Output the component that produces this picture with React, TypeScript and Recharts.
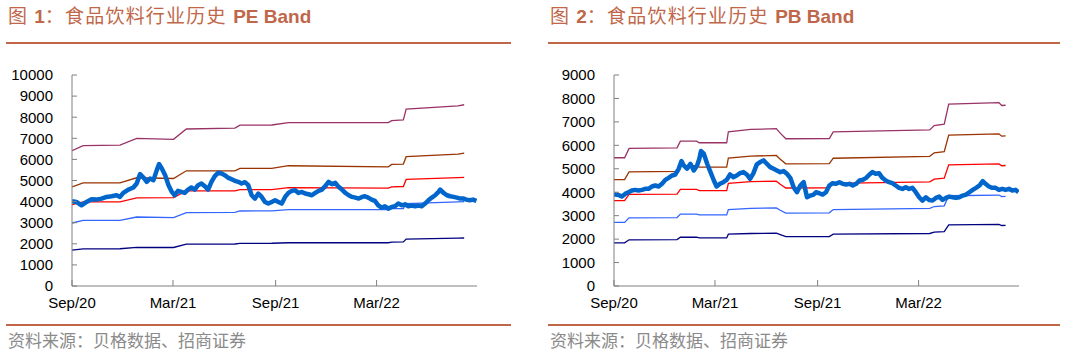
import React from 'react';
import { LineChart, Line, XAxis, YAxis } from 'recharts';

// x positions are days counted from 2020-09-01
const xTickDays = [0, 181, 365, 546];
const xTickLabels = ['Sep/20', 'Mar/21', 'Sep/21', 'Mar/22'];
const peYTicks = [0, 1000, 2000, 3000, 4000, 5000, 6000, 7000, 8000, 9000, 10000];
const pbYTicks = [0, 1000, 2000, 3000, 4000, 5000, 6000, 7000, 8000, 9000];

// PE band lines
const peBandDays = [0, 20, 86, 116, 182, 205, 292, 301, 358, 388, 567, 573, 594, 599, 692, 703];
const peBand1 = [6410, 6650, 6680, 7000, 6950, 7440, 7480, 7620, 7630, 7745, 7745, 7840, 7870, 8380, 8540, 8590];
const peBand2 = [4700, 4890, 4890, 5130, 5095, 5460, 5460, 5570, 5570, 5700, 5650, 5760, 5780, 6130, 6250, 6300];
const peBand3 = [3860, 3985, 3985, 4180, 4190, 4505, 4510, 4570, 4570, 4665, 4640, 4700, 4715, 5050, 5140, 5145];
const peBand4 = [2985, 3110, 3110, 3270, 3240, 3475, 3490, 3555, 3560, 3620, 3620, 3665, 3670, 3905, 3985, 4000];
const peBand5 = [1700, 1760, 1765, 1830, 1825, 1980, 1990, 2020, 2025, 2050, 2050, 2080, 2090, 2220, 2265, 2275];

// PE index line
const peMainDays = [
  0, 8, 17, 26, 35, 44, 53, 62, 71, 80, 86, 92, 101, 110, 116, 122, 128, 134, 140, 146, 152, 156, 161, 167, 173,
  179, 184, 190, 196, 202, 208, 214, 220, 226, 232, 238, 244, 250, 256, 262, 268, 274, 280, 286, 292, 298, 304,
  310, 316, 322, 328, 334, 340, 346, 352, 358, 364, 370, 376, 382, 388, 394, 400, 406, 412, 418, 424, 430, 436,
  442, 448, 454, 460, 466, 472, 478, 484, 490, 496, 502, 508, 514, 520, 525, 531, 537, 543, 549, 555, 561, 567,
  573, 579, 585, 591, 597, 603, 609, 615, 621, 627, 633, 639, 645, 651, 657, 660, 666, 672, 678, 684, 690, 696,
  702, 707, 713, 719, 725,
];
const peMainVals = [
  4016, 3984, 3825, 3984, 4111, 4095, 4143, 4222, 4254, 4302, 4222, 4413, 4571, 4667, 4857, 5302, 5143, 4937,
  5095, 5016, 5492, 5778, 5571, 5254, 4778, 4460, 4302, 4508, 4460, 4413, 4571, 4667, 4571, 4778, 4857, 4730,
  4571, 4937, 5206, 5365, 5333, 5254, 5127, 5063, 4984, 4937, 4857, 4921, 4778, 4302, 4143, 4381, 4222, 3984,
  3905, 3984, 4063, 3984, 3905, 4222, 4413, 4508, 4540, 4413, 4460, 4381, 4349, 4302, 4413, 4508, 4571, 4730,
  4937, 4825, 4889, 4698, 4571, 4413, 4302, 4222, 4190, 4143, 4222, 4254, 4190, 4095, 4032, 3825, 3714, 3778,
  3667, 3746, 3778, 3905, 3825, 3873, 3778, 3810, 3778, 3810, 3778, 3905, 4063, 4190, 4302, 4460, 4571, 4413,
  4302, 4254, 4222, 4190, 4143, 4143, 4095, 4063, 4095, 4032,
];

// PB band lines
const pbBandDays = [0, 19, 27, 113, 119, 148, 153, 202, 205, 245, 291, 298, 308, 386, 393, 566, 574, 592, 600, 690, 695, 702];
const pbBand1 = [5470, 5470, 5870, 5890, 6180, 6180, 6110, 6110, 6580, 6680, 6710, 6520, 6280, 6290, 6570, 6660, 6840, 6900, 7760, 7820, 7700, 7710];
const pbBand2 = [4540, 4540, 4870, 4890, 5130, 5130, 5070, 5070, 5460, 5540, 5570, 5410, 5210, 5220, 5450, 5530, 5680, 5730, 6440, 6490, 6390, 6400];
const pbBand3 = [3640, 3640, 3910, 3920, 4120, 4120, 4070, 4070, 4380, 4450, 4470, 4340, 4180, 4190, 4380, 4440, 4560, 4600, 5170, 5210, 5130, 5140];
const pbBand4 = [2710, 2710, 2910, 2920, 3070, 3070, 3030, 3030, 3260, 3310, 3330, 3230, 3110, 3120, 3260, 3310, 3390, 3420, 3850, 3880, 3810, 3820];
const pbBand5 = [1840, 1840, 1970, 1980, 2080, 2080, 2050, 2050, 2210, 2240, 2250, 2190, 2110, 2110, 2210, 2240, 2300, 2320, 2610, 2630, 2580, 2590];

// PB index line
const pbMainDays = [
  0, 2, 8, 14, 20, 26, 32, 38, 44, 50, 56, 62, 68, 74, 80, 86, 92, 98, 104, 110, 116, 121, 125, 131, 137, 143,
  149, 153, 156, 161, 167, 173, 179, 184, 190, 196, 202, 208, 214, 220, 226, 232, 238, 244, 250, 256, 262, 268,
  274, 280, 286, 292, 298, 304, 310, 316, 322, 328, 334, 340, 346, 352, 358, 362, 368, 374, 380, 386, 392, 398,
  404, 410, 416, 422, 428, 434, 440, 446, 452, 458, 463, 469, 475, 481, 487, 493, 499, 505, 511, 517, 523, 529,
  535, 541, 547, 553, 559, 565, 571, 577, 583, 589, 595, 601, 607, 613, 619, 625, 631, 637, 643, 649, 655, 661,
  666, 672, 678, 684, 690, 696, 702, 708, 714, 720, 725,
];
const pbMainVals = [
  3957, 3900, 3886, 3814, 3929, 4000, 4071, 4100, 4071, 4100, 4143, 4143, 4243, 4286, 4243, 4357, 4529, 4614,
  4714, 4757, 5000, 5329, 5143, 5000, 5214, 4929, 5143, 5429, 5758, 5643, 5214, 4857, 4500, 4243, 4357, 4429,
  4529, 4757, 4643, 4714, 4814, 4857, 4757, 4571, 4814, 5186, 5286, 5357, 5214, 5071, 5000, 4929, 4857, 4900,
  4786, 4614, 4214, 4000, 4286, 4429, 3786, 3857, 3900, 4000, 3957, 3900, 4000, 4286, 4386, 4357, 4429, 4357,
  4329, 4357, 4286, 4357, 4500, 4529, 4614, 4757, 4857, 4786, 4814, 4614, 4500, 4429, 4386, 4286, 4186, 4143,
  4214, 4143, 4186, 4000, 3786, 3643, 3786, 3671, 3643, 3757, 3814, 3671, 3757, 3814, 3786, 3757, 3786, 3857,
  3900, 4000, 4100, 4186, 4286, 4471, 4357, 4243, 4186, 4186, 4100, 4143, 4100, 4143, 4071, 4100, 4000,
];

const bandColors = ['#993366', '#993300', '#FF0000', '#3366FF', '#000080'];
const mainColor = '#0066CC';
const axisColor = '#808080';
const accent = '#C0674A';
const latin = '"Liberation Sans", Arial, "Noto Sans CJK SC", sans-serif';

const toPts = (days: number[], vals: number[]) => days.map((d, i) => ({ d, v: vals[i] }));

const YTick = (props: any) => {
  const { x, y, payload } = props;
  return (
    <g>
      <line x1={x + 19} x2={x + 24} y1={y} y2={y} stroke={axisColor} />
      <text x={x} y={y} dy="0.355em" textAnchor="end" fontSize={15} fontFamily={latin} fill="#000">
        {payload.value}
      </text>
    </g>
  );
};

const XTick = (props: any) => {
  const { x, y, payload } = props;
  const idx = xTickDays.indexOf(payload.value);
  return (
    <g>
      <line x1={x} x2={x} y1={y - 11} y2={y - 17} stroke={axisColor} />
      <text x={x} y={y} dy="0.71em" textAnchor="middle" fontSize={15} fontFamily={latin} fill="#000">
        {idx >= 0 ? xTickLabels[idx] : ''}
      </text>
    </g>
  );
};

function Band({
  left,
  ruleWidth,
  num,
  name,
  yMax,
  yTicks,
  bands,
  bandDays,
  mainDays,
  mainVals,
}: {
  left: number;
  ruleWidth: number;
  num: string;
  name: string;
  yMax: number;
  yTicks: number[];
  bands: number[][];
  bandDays: number[];
  mainDays: number[];
  mainVals: number[];
}) {
  return (
    <>
      <div
        style={{
          position: 'absolute',
          left: left + 8,
          top: 7,
          fontSize: 19,
          lineHeight: '20px',
          color: accent,
          fontFamily: latin,
          whiteSpace: 'nowrap',
        }}
      >
        <span style={{ letterSpacing: 1 }}>图 </span>
        <b>{num}</b>
        <span style={{ letterSpacing: 1.2 }}>：食品饮料行业历史 </span>
        <b>{name}</b>
      </div>
      <div style={{ position: 'absolute', left: left + 6, top: 42, width: ruleWidth, height: 2, background: accent }} />
      <div style={{ position: 'absolute', left: left, top: 60 }}>
        <LineChart width={490} height={260} margin={{ top: 15, right: 13, bottom: 4, left: 0 }}>
          <XAxis
            type="number"
            dataKey="d"
            domain={[0, 726]}
            ticks={xTickDays}
            tick={<XTick />}
            tickLine={false}
            tickSize={0}
            tickMargin={11}
            height={30}
            axisLine={{ stroke: axisColor }}
            allowDataOverflow
          />
          <YAxis
            type="number"
            domain={[0, yMax]}
            ticks={yTicks}
            tick={<YTick />}
            tickLine={false}
            tickSize={0}
            tickMargin={19}
            width={72}
            axisLine={{ stroke: axisColor }}
            interval={0}
          />
          {bands.map((vals, i) => (
            <Line
              key={i}
              data={toPts(bandDays, vals)}
              dataKey="v"
              type="linear"
              stroke={bandColors[i]}
              strokeWidth={1.3}
              dot={false}
              isAnimationActive={false}
            />
          ))}
          <Line
            data={toPts(mainDays, mainVals)}
            dataKey="v"
            type="linear"
            stroke={mainColor}
            strokeWidth={4.5}
            strokeLinejoin="round"
            dot={false}
            isAnimationActive={false}
          />
        </LineChart>
      </div>
      <div style={{ position: 'absolute', left: left + 6, top: 324, width: ruleWidth, height: 2, background: accent }} />
      <div
        style={{
          position: 'absolute',
          left: left + 8,
          top: 330,
          fontSize: 17,
          lineHeight: '20px',
          color: '#8a8a8a',
          fontFamily: '"Noto Sans CJK SC", sans-serif',
          whiteSpace: 'nowrap',
        }}
      >
        资料来源：贝格数据、招商证券
      </div>
    </>
  );
}

export default function App() {
  return (
    <div style={{ position: 'absolute', left: 0, top: 0, width: 1074, height: 354, background: '#fff', overflow: 'hidden' }}>
      <Band
        left={0}
        ruleWidth={505}
        num="1"
        name="PE Band"
        yMax={10000}
        yTicks={peYTicks}
        bands={[peBand1, peBand2, peBand3, peBand4, peBand5]}
        bandDays={peBandDays}
        mainDays={peMainDays}
        mainVals={peMainVals}
      />
      <Band
        left={542}
        ruleWidth={512}
        num="2"
        name="PB Band"
        yMax={9000}
        yTicks={pbYTicks}
        bands={[pbBand1, pbBand2, pbBand3, pbBand4, pbBand5]}
        bandDays={pbBandDays}
        mainDays={pbMainDays}
        mainVals={pbMainVals}
      />
    </div>
  );
}
